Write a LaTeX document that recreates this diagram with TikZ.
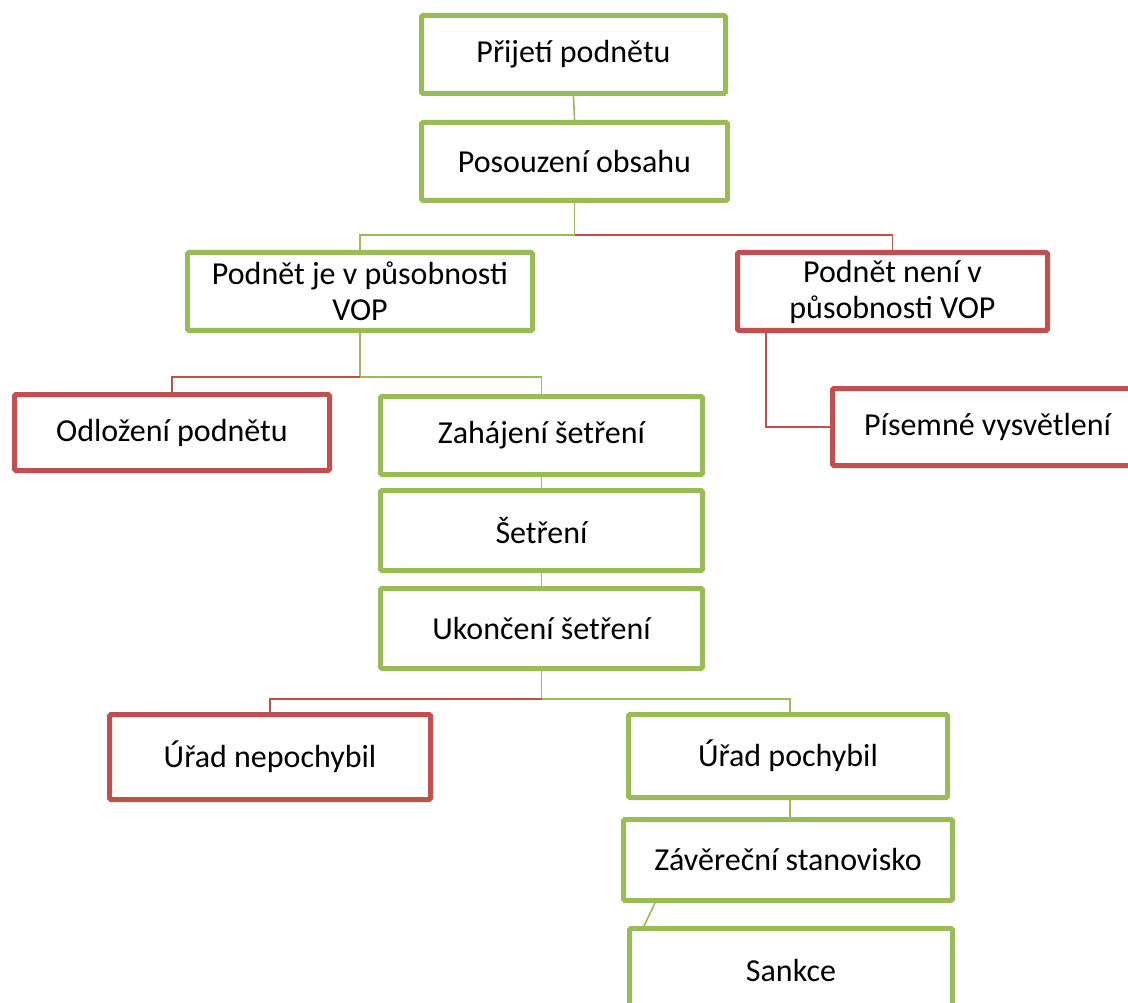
\documentclass[tikz,border=0pt]{standalone}
\usepackage{fontspec}
\setmainfont{Carlito}
\usetikzlibrary{calc}
\definecolor{gr}{HTML}{9BBB59}
\definecolor{rd}{HTML}{C0504D}
\begin{document}
\begin{tikzpicture}[x=1pt,y=-1pt,
  box/.style={draw, line width=5pt, rounded corners=1.5pt, fill=white, anchor=north west,
    align=center, inner sep=0pt, font=\fontsize{32}{36}\selectfont},
  gbox/.style={box, draw=gr},
  rbox/.style={box, draw=rd},
  gl/.style={draw=gr, line width=1.6pt},
  rl/.style={draw=rd, line width=1.6pt}]
\useasboundingbox (0,0) rectangle (1128,1003);
\clip (0,0) rectangle (1128,1003);
% nodes
\node[gbox, minimum width=304, minimum height=78] (b1) at (419,13) {Přijetí podnětu};
\node[gbox, minimum width=306, minimum height=78] (b2) at (419,120) {Posouzení obsahu};
\node[gbox, minimum width=345, minimum height=78] (b3) at (185,250) {Podnět je v působnosti\\VOP};
\node[rbox, minimum width=310, minimum height=78] (b4) at (735,250) {Podnět není v\\působnosti VOP};
\node[rbox, minimum width=310, minimum height=77] (pis) at (830,386) {Písemné vysvětlení};
\node[rbox, minimum width=315, minimum height=76] (odl) at (12,392) {Odložení podnětu};
\node[gbox, minimum width=322, minimum height=78] (zah) at (378,394) {Zahájení šetření};
\node[gbox, minimum width=322, minimum height=80] (set) at (378,488) {Šetření};
\node[gbox, minimum width=322, minimum height=80] (uko) at (378,586) {Ukončení šetření};
\node[rbox, minimum width=321, minimum height=85] (une) at (107,712) {Úřad nepochybil};
\node[gbox, minimum width=319, minimum height=83] (upo) at (626,712) {Úřad pochybil};
\node[gbox, minimum width=329, minimum height=81] (zav) at (621,817) {Závěreční stanovisko};
\node[gbox, minimum width=323, minimum height=84] (san) at (627,926) {Sankce};
% connectors
\path[gl] (b1.south) -- (b2.north);
\path[gl] (b2.south) -- ++(0,32) coordinate (j1) -| (b3.north);
\path[rl] (j1) -| (b4.north);
\path[rl] ($(b4.south west)+(31,0)$) |- (pis.west);
\path[gl] (b3.south) -- ++(0,44) coordinate (j2) -| (zah.north);
\path[rl] (j2) -| (odl.north);
\path[gl] (zah.south) -- (set.north);
\path[gl] (set.south) -- (uko.north);
\path[gl] (uko.south) -- ++(0,28) coordinate (j3) -| ($(upo.north)+(2,0)$);
\path[rl] (j3) -| (une.north);
\path[gl] ($(upo.south)+(2,0)$) -- ($(zav.north)+(2,0)$);
\path[gl] ($(zav.south west)+(34,0)$) -- ($(san.north west)+(17,0)$);
\end{tikzpicture}
\end{document}
